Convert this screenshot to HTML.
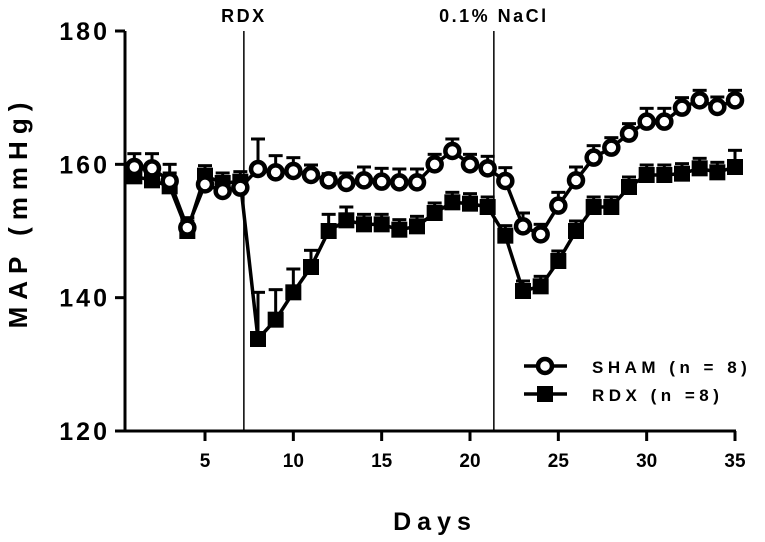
<!DOCTYPE html>
<html><head><meta charset="utf-8"><style>
body{margin:0;background:#fff}
svg{font-family:"Liberation Sans",Arial,sans-serif;font-weight:bold}
</style></head><body>
<svg width="765" height="537" viewBox="0 0 765 537">
<g id="axes"></g><g id="marks"></g>
</svg>
<script>
const days=[1,2,3,4,5,6,7,8,9,10,11,12,13,14,15,16,17,18,19,20,21,22,23,24,25,26,27,28,29,30,31,32,33,34,35];
const shamValues=[159.6,159.4,157.5,150.5,157,156,156.5,159.3,158.8,159,158.4,157.6,157.2,157.6,157.4,157.3,157.3,160,162,160,159.4,157.5,150.7,149.5,153.8,157.6,161,162.5,164.6,166.4,166.4,168.5,169.6,168.6,169.6];
const shamErr=[2,2.2,2.5,1.5,1.5,1.5,1.5,4.5,2.5,2,1.5,1,1.5,2,2,2,2,1.5,1.8,1.5,1.8,2,2,1.5,2,2,1.8,1.5,1.5,2,2,1.5,1.5,1.5,1.5];
const rdxValues=[158.2,157.6,156.7,150,158.3,157.2,157.4,133.8,136.7,140.8,144.6,150,151.6,151,151,150.2,150.7,152.7,154.3,154.1,153.6,149.3,141,141.7,145.5,150,153.6,153.6,156.6,158.4,158.4,158.6,159.4,158.8,159.6];
const rdxErr=[2,2,2,1.5,1.5,1.5,1.5,7,4.5,3.5,2.5,2.5,2,1.5,1.5,1.5,1.5,1.5,1.5,1.5,1.5,1.5,1.5,1.5,1.5,1.5,1.5,1.5,1.5,1.5,1.5,1.5,1.5,1.5,2.5];
const yTicks=[120,140,160,180];
const xTicks=[5,10,15,20,25,30,35];
const markers=[{day:7.2,label:"RDX"},{day:21.35,label:"0.1% NaCl"}];
const NS="http://www.w3.org/2000/svg";
const X=d=>205+(d-5)*(530/30);
const Y=v=>431-(v-120)*(400/60);
const axes=document.getElementById('axes'),marks=document.getElementById('marks');
function mk(p,tag,a,t){const e=document.createElementNS(NS,tag);for(const k in a)e.setAttribute(k,a[k]);if(t!=null)e.textContent=t;p.appendChild(e);return e;}
let e;
e=mk(axes,'line',{x1:125,y1:31,x2:125,y2:432,stroke:'#000','stroke-width':3});


e=mk(axes,'line',{x1:124,y1:431,x2:736,y2:431,stroke:'#000','stroke-width':3});


yTicks.forEach(v=>{
 mk(axes,'line',{x1:115,y1:Y(v),x2:125,y2:Y(v),stroke:'#000','stroke-width':3});
 e=mk(axes,'text',{x:110,y:Y(v)+9,'text-anchor':'end','font-size':25,'letter-spacing':3},v);
 
 
});
xTicks.forEach(d=>{
 mk(axes,'line',{x1:X(d),y1:431,x2:X(d),y2:441,stroke:'#000','stroke-width':3});
 e=mk(axes,'text',{x:X(d),y:467,'text-anchor':'middle','font-size':19},d);
 
 
});
markers.forEach(m=>{
 mk(axes,'line',{x1:X(m.day),y1:31,x2:X(m.day),y2:431,stroke:'#000','stroke-width':1.5});
 e=mk(axes,'text',{x:X(m.day),y:22,'text-anchor':'middle','font-size':18,'letter-spacing':2.5},m.label);
 
 
});
e=mk(axes,'text',{x:435,y:530,'text-anchor':'middle','font-size':25,'letter-spacing':6},'Days');


e=mk(axes,'text',{x:0,y:0,'text-anchor':'middle','font-size':26,'letter-spacing':7,transform:'translate(27,212) rotate(-90)'},'MAP (mmHg)');


function series(vals,errs,sq,name){
 const g=mk(marks,'g',{});
 
 
 vals.forEach((v,i)=>{const x=X(days[i]),y=Y(v),t=Y(v+errs[i]);
  mk(g,'line',{x1:x,y1:y,x2:x,y2:t,stroke:'#000','stroke-width':3});
  mk(g,'line',{x1:x-7,y1:t,x2:x+7,y2:t,stroke:'#000','stroke-width':3});});
 mk(g,'polyline',{points:vals.map((v,i)=>X(days[i])+','+Y(v)).join(' '),fill:'none',stroke:'#000','stroke-width':3.5});
 vals.forEach((v,i)=>{const x=X(days[i]),y=Y(v);
  if(sq)mk(g,'rect',{x:x-8,y:y-8,width:16,height:16,fill:'#000'});
  else mk(g,'circle',{cx:x,cy:y,r:7,fill:'#fff',stroke:'#000','stroke-width':4.5});});
}
series(rdxValues,rdxErr,true,'rdx-series');
series(shamValues,shamErr,false,'sham-series');
const lg=mk(axes,'g',{});


mk(lg,'line',{x1:524,y1:366,x2:567,y2:366,stroke:'#000','stroke-width':3.5});
mk(lg,'circle',{cx:545,cy:366,r:7,fill:'#fff',stroke:'#000','stroke-width':4.5});
mk(lg,'text',{x:592,y:373,'font-size':17,'letter-spacing':4.5},'SHAM (n = 8)');
mk(lg,'line',{x1:524,y1:394,x2:567,y2:394,stroke:'#000','stroke-width':3.5});
mk(lg,'rect',{x:537,y:386,width:16,height:16,fill:'#000'});
mk(lg,'text',{x:592,y:401,'font-size':17,'letter-spacing':4.5},'RDX (n =8)');
</script>
</body></html>
